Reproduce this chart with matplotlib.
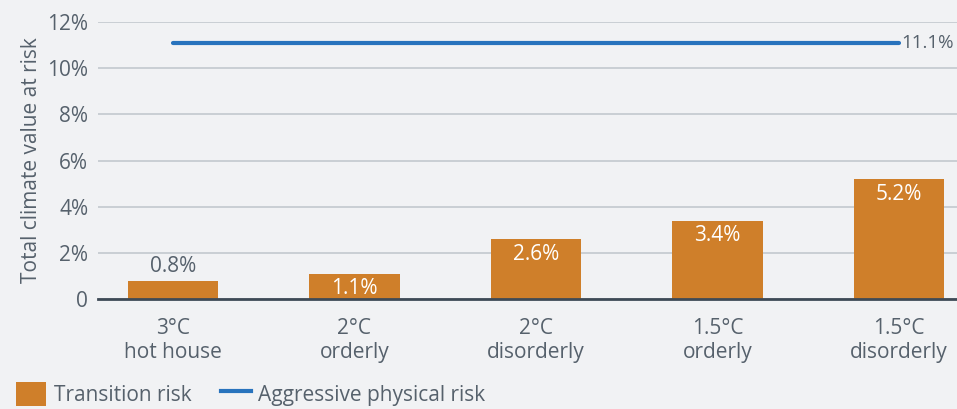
import numpy as np
import matplotlib.pyplot as plt
from matplotlib.patches import Patch
from matplotlib.lines import Line2D

plt.rcParams['font.family'] = ['Open Sans', 'DejaVu Sans']

# scenario data
scenarios = ['3°C\nhot house', '2°C\norderly', '2°C\ndisorderly', '1.5°C\norderly', '1.5°C\ndisorderly']
transition_risk = [0.8, 1.1, 2.6, 3.4, 5.2]
physical_risk = [11.1, 11.1, 11.1, 11.1, 11.1]
yticks = [0, 2, 4, 6, 8, 10, 12]
ytick_labels = ['0', '2%', '4%', '6%', '8%', '10%', '12%']

bg = '#f1f2f4'
orange = '#cf7f2a'
blue = '#2873bd'
txt = '#56616c'
fs = 15

fig = plt.figure(figsize=(9.57, 4.09), dpi=100, facecolor=bg)
ax = fig.add_axes([0.1024, 0.269, 0.8976, 0.677], facecolor=bg)

x = np.arange(len(scenarios))
bars = ax.bar(x, transition_risk, width=0.5, color=orange, zorder=3)
ax.plot(x, physical_risk, color=blue, lw=3, solid_capstyle='round', zorder=3)
ax.text(x[-1] + 0.015, physical_risk[-1], f'{physical_risk[-1]:.1f}%', ha='left', va='center',
        fontsize=13.5, color=txt, clip_on=False)

# value labels: above the bar when it is too short, else inside near the top
for xi, v in zip(x, transition_risk):
    if v < 1.0:
        ax.text(xi, v + 0.15, f'{v:.1f}%', ha='center', va='bottom', fontsize=fs, color=txt)
    else:
        ax.text(xi, v - 0.2, f'{v:.1f}%', ha='center', va='top', fontsize=fs, color='white', zorder=4)

ax.set_xlim(-0.413, 4.32)
ax.set_ylim(0, 12)
ax.set_yticks(yticks)
ax.set_yticklabels(ytick_labels)
ax.set_xticks(x)
ax.set_xticklabels(scenarios, linespacing=1.15)
ax.tick_params(axis='both', length=0, labelsize=fs, labelcolor=txt)
ax.tick_params(axis='y', pad=7)
ax.tick_params(axis='x', pad=14)
ax.grid(axis='y', color='#c3c8ce', lw=1.2, zorder=0)
for s in ['top', 'right', 'left']:
    ax.spines[s].set_visible(False)
ax.spines['bottom'].set_color('#3e4a56')
ax.spines['bottom'].set_linewidth(2)
ax.spines['bottom'].set_zorder(5)
ax.set_ylabel('Total climate value at risk', fontsize=fs, color=txt)
ax.yaxis.set_label_coords(-0.065, 0.5)

handles = [Patch(facecolor=orange, edgecolor='none'),
           Line2D([0], [0], color=blue, lw=3)]
fig.legend(handles, ['Transition risk', 'Aggressive physical risk'], loc='center left',
           bbox_to_anchor=(0.017, 1 - 394 / 409), ncol=2, frameon=False, fontsize=fs,
           labelcolor=txt, handlelength=1.45, handleheight=1.45, handletextpad=0.35,
           columnspacing=1.4, borderaxespad=0, borderpad=0)

fig.savefig('out.png', dpi=100, facecolor=bg)
